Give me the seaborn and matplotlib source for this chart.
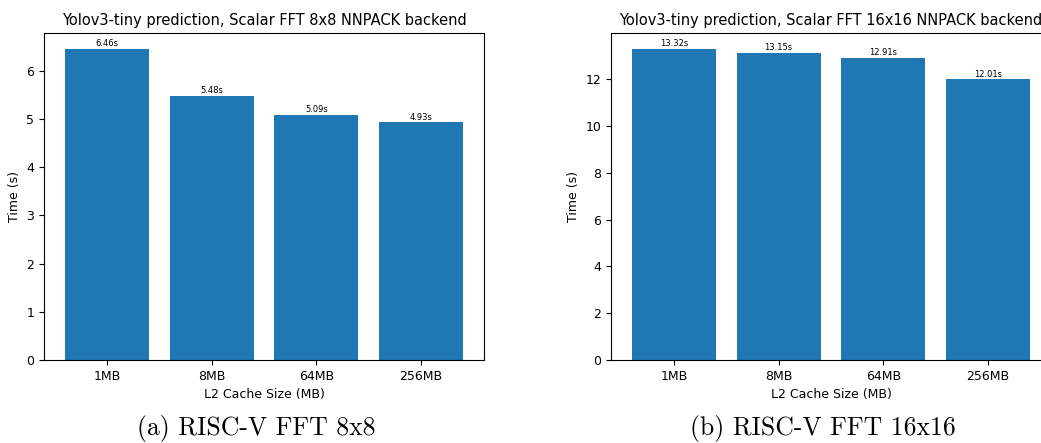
import pandas as pd
import numpy as np
import seaborn as sns
import matplotlib.pyplot as plt

cache_sizes = ['1MB', '8MB', '64MB', '256MB']
times_8x8 = [6.46, 5.48, 5.09, 4.93]
times_16x16 = [13.32, 13.15, 12.91, 12.01]

titles = ['Yolov3-tiny prediction, Scalar FFT 8x8 NNPACK backend',
          'Yolov3-tiny prediction, Scalar FFT 16x16 NNPACK backend']
captions = ['(a) RISC-V FFT 8x8', '(b) RISC-V FFT 16x16']

fig = plt.figure(figsize=(10.41, 4.43), dpi=100)
# axes placed by hand, the right one runs off the page like the original
ax1 = fig.add_axes([44/1041, 1-360/443, 440/1041, 327/443])
ax2 = fig.add_axes([611/1041, 1-360/443, 440/1041, 327/443])

for ax, times, title in zip([ax1, ax2], [times_8x8, times_16x16], titles):
    df = pd.DataFrame({'cache': cache_sizes, 'time': times})
    sns.barplot(ax=ax, data=df, x='cache', y='time', color='#1f77b4',
                saturation=1, width=0.8, edgecolor='none')
    ax.set_xlim(-0.6, 3.6)
    ax.set_ylim(0, max(times)*1.05)
    ax.bar_label(ax.containers[0], fmt='%.2fs', fontsize=6, padding=0.5)
    ax.set_title(title, fontsize=10.5, pad=6)
    ax.set_xlabel('L2 Cache Size (MB)', fontsize=9)
    ax.set_ylabel('Time (s)', fontsize=9)
    ax.tick_params(labelsize=9)

fig.text(256/1041, 1-428/443, captions[0], ha='center', va='center',
         fontsize=18.5, family='cmr10')
fig.text(823/1041, 1-428/443, captions[1], ha='center', va='center',
         fontsize=18.5, family='cmr10')

plt.savefig('out.png', dpi=100)
